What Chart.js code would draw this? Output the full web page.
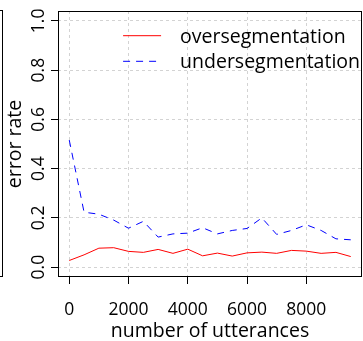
<!DOCTYPE html>
<html>
<head>
<meta charset="utf-8">
<script src="https://cdn.jsdelivr.net/npm/chart.js@4"></script>
<style>
  html, body { margin: 0; padding: 0; background: #fff; }
  #wrap { position: relative; width: 363px; height: 341px; overflow: hidden; }
  /* edge of the neighbouring panel */
  #prev { position: absolute; left: -21px; top: 10px; width: 22px; height: 265px; border: 1px solid #000; }
  canvas { position: absolute; left: 0; top: 0; }
</style>
</head>
<body>
<div id="wrap">
  <div id="prev"></div>
  <canvas id="chart" width="363" height="341"></canvas>
</div>
<script>
// data
const utterances = [0, 500, 1000, 1500, 2000, 2500, 3000, 3500, 4000, 4500,
                    5000, 5500, 6000, 6500, 7000, 7500, 8000, 8500, 9000, 9500];
const overSeg  = [0.027, 0.050, 0.077, 0.079, 0.064, 0.060, 0.072, 0.056, 0.073, 0.046,
                  0.057, 0.045, 0.058, 0.061, 0.056, 0.068, 0.065, 0.056, 0.060, 0.043];
const underSeg = [0.516, 0.223, 0.215, 0.191, 0.158, 0.186, 0.122, 0.135, 0.138, 0.160,
                  0.135, 0.149, 0.157, 0.200, 0.133, 0.149, 0.172, 0.149, 0.115, 0.111];
const xTicks = [0, 2000, 4000, 6000, 8000];
const yTicks = [0, 0.2, 0.4, 0.6, 0.8, 1.0];

const FONT = '"Open Sans", "DejaVu Sans", sans-serif';

// R style box round the plot region
const plotBox = {
  id: 'plotBox',
  afterDraw(chart) {
    const { ctx, chartArea: a } = chart;
    ctx.save();
    ctx.strokeStyle = '#000';
    ctx.lineWidth = 1;
    ctx.strokeRect(a.left + 0.5, a.top + 0.5, a.width - 1, a.height - 1);
    ctx.restore();
  }
};

// legend inside the plot, top right, no frame
const insetLegend = {
  id: 'insetLegend',
  afterDatasetsDraw(chart) {
    const { ctx, chartArea: a } = chart;
    const sets = chart.data.datasets;
    ctx.save();
    ctx.font = '19.5px ' + FONT;
    const widest = Math.max(...sets.map(d => ctx.measureText(d.label).width));
    const textX = a.right - widest - 2;
    sets.forEach((d, i) => {
      const y = a.top + 24.7 + i * 25.6;
      ctx.strokeStyle = d.borderColor;
      ctx.lineWidth = d.borderWidth;
      ctx.setLineDash(d.borderDash || []);
      ctx.beginPath();
      ctx.moveTo(textX - 57, y);
      ctx.lineTo(textX - 19, y);
      ctx.stroke();
      ctx.setLineDash([]);
      ctx.fillStyle = '#000';
      ctx.textBaseline = 'alphabetic';
      ctx.fillText(d.label, textX, y + 7);
    });
    ctx.restore();
  }
};

new Chart(document.getElementById('chart'), {
  type: 'line',
  data: {
    datasets: [
      {
        label: 'oversegmentation',
        data: utterances.map((x, i) => ({ x, y: overSeg[i] })),
        borderColor: '#ff0000',
        borderWidth: 1,
        pointRadius: 0,
        fill: false,
        tension: 0
      },
      {
        label: 'undersegmentation',
        data: utterances.map((x, i) => ({ x, y: underSeg[i] })),
        borderColor: '#0000ff',
        borderWidth: 1,
        borderDash: [7, 6],
        pointRadius: 0,
        fill: false,
        tension: 0
      }
    ]
  },
  options: {
    responsive: false,
    animation: false,
    devicePixelRatio: 1,
    layout: { padding: { top: 11, right: 1, left: 0, bottom: 0 } },
    plugins: { legend: { display: false }, tooltip: { enabled: false } },
    scales: {
      x: {
        type: 'linear',
        min: -380,
        max: 9880,
        afterBuildTicks: s => { s.ticks = xTicks.map(v => ({ value: v })); },
        afterFit: s => { s.height = 64; s.paddingLeft = 0; s.paddingRight = 0; },
        ticks: {
          callback: v => String(v),
          font: { family: FONT, size: 17.5 },
          color: '#000',
          padding: 16,
          maxRotation: 0,
          autoSkip: false
        },
        grid: { color: '#d3d3d3', tickColor: '#000', tickLength: 7 },
        border: { display: false, dash: [3, 3] },
        title: {
          display: true,
          text: 'number of utterances',
          font: { family: FONT, size: 19.5 },
          color: '#000',
          padding: { top: 0, bottom: -2 }
        }
      },
      y: {
        type: 'linear',
        min: -0.04,
        max: 1.04,
        afterBuildTicks: s => { s.ticks = yTicks.map(v => ({ value: v })); },
        afterFit: s => { s.width = 58; s.paddingTop = 0; s.paddingBottom = 0; },
        ticks: {
          callback: v => v.toFixed(1),
          font: { family: FONT, size: 17.5 },
          color: '#000',
          minRotation: 90,
          maxRotation: 90,
          crossAlign: 'center',
          padding: 0,
          autoSkip: false
        },
        grid: { color: '#d3d3d3', tickColor: '#000', tickLength: 7 },
        border: { display: false, dash: [3, 3] },
        title: {
          display: true,
          text: 'error rate',
          font: { family: FONT, size: 19.5 },
          color: '#000',
          padding: { top: 4, bottom: 0 }
        }
      }
    }
  },
  plugins: [plotBox, insetLegend]
});
</script>
</body>
</html>
